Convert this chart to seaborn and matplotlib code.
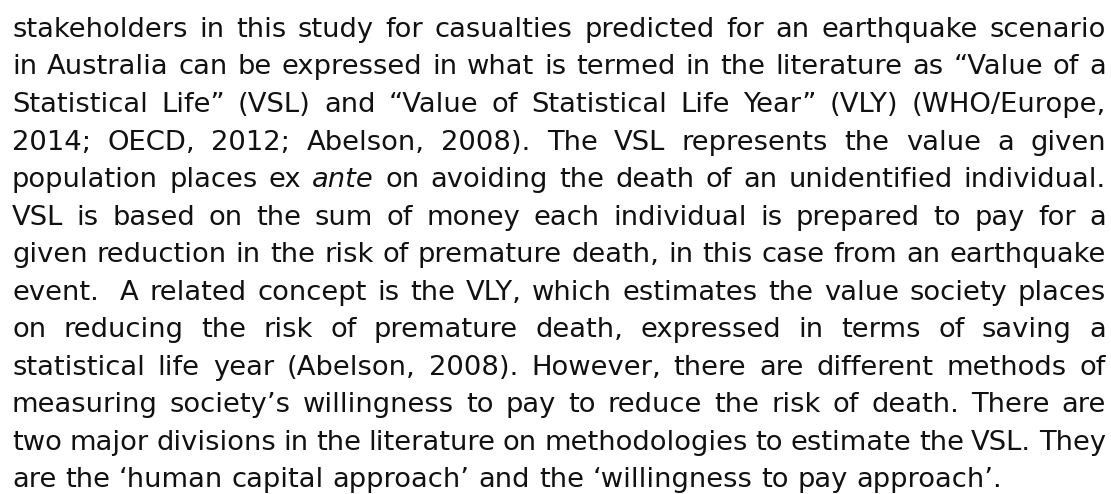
import matplotlib
matplotlib.use("Agg")
import matplotlib.pyplot as plt
import seaborn as sns

# 段落の各行（元画像の改行位置どおり）。_word_ はイタリック
lines = [
    "stakeholders in this study for casualties predicted for an earthquake scenario",
    "in Australia can be expressed in what is termed in the literature as \u201cValue of a",
    "Statistical Life\u201d (VSL) and \u201cValue of Statistical Life Year\u201d (VLY) (WHO/Europe,",
    "2014; OECD, 2012; Abelson, 2008). The VSL represents the value a given",
    "population places ex _ante_ on avoiding the death of an unidentified individual.",
    "VSL is based on the sum of money each individual is prepared to pay for a",
    "given reduction in the risk of premature death, in this case from an earthquake",
    "event.  A related concept is the VLY, which estimates the value society places",
    "on reducing the risk of premature death, expressed in terms of saving a",
    "statistical life year (Abelson, 2008). However, there are different methods of",
    "measuring society\u2019s willingness to pay to reduce the risk of death. There are",
    "two major divisions in the literature on methodologies to estimate the VSL. They",
    "are the \u2018human capital approach\u2019 and the \u2018willingness to pay approach\u2019.",
]

sns.set_theme(style="white")
plt.rcParams["font.family"] = ["DejaVu Sans"]

W, H = 1111, 494
fig = plt.figure(figsize=(W / 100, H / 100), dpi=100)
ax = fig.add_axes([0, 0, 1, 1])
ax.set_xlim(0, W)
ax.set_ylim(H, 0)
ax.axis("off")

left, right = 12, 1106
top, step = 37, 37.5
last_end = 1067
renderer = fig.canvas.get_renderer()


def word_width(txt, style, size):
    t = ax.text(0, 0, txt, fontsize=size, style=style)
    w = t.get_window_extent(renderer).width
    t.remove()
    return w


def split_words(line):
    out = []
    for w in line.split(" "):
        style = "normal"
        if w.startswith("_") and w.endswith("_") and len(w) > 2:
            w = w[1:-1]
            style = "italic"
        out.append((w, style))
    return out


# フォントサイズ: 最終行の幅に合わせつつ、詰まった行でも語間が残るように
sizes = [10 * (last_end - left) / word_width(lines[-1], "normal", 10)]
for line in lines[:-1]:
    ws = split_words(line)
    tot10 = sum(word_width(w, s, 10) for w, s in ws if w)
    min_gap10 = 0.28 * 10 * 100 / 72
    sizes.append(10 * (right - left) / (tot10 + (len(ws) - 1) * min_gap10))
fsize = min(sizes)

for i, line in enumerate(lines):
    y = top + i * step
    items = [(w, s, word_width(w, s, fsize) if w else 0.0)
             for w, s in split_words(line)]
    total = sum(it[2] for it in items)
    if i == len(lines) - 1:
        gap = word_width("a b", "normal", fsize) - word_width("ab", "normal", fsize)
    else:
        gap = (right - left - total) / (len(items) - 1)
    x = left
    for w, style, ww in items:
        if w:
            ax.text(x, y, w, fontsize=fsize, style=style, color="#111111",
                    ha="left", va="baseline")
        x += ww + gap

fig.savefig("out.png", dpi=100, facecolor="white")
